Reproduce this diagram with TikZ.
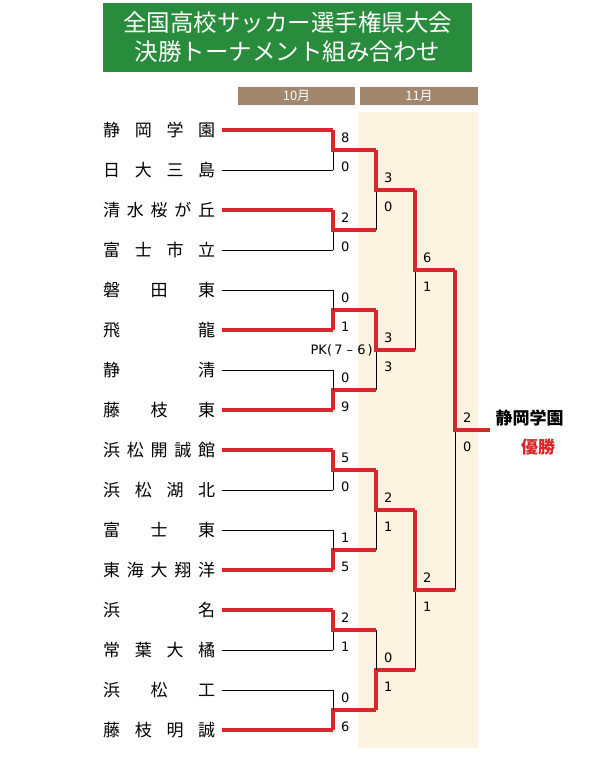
\documentclass[tikz,border=0pt]{standalone}
\usepackage{fontspec}
\setmainfont{Noto Sans CJK JP}
\setsansfont{DejaVu Sans}
\definecolor{winred}{RGB}{214,40,44}
\definecolor{titlegreen}{RGB}{40,140,60}
\definecolor{monthbrown}{RGB}{160,135,110}
\definecolor{novbg}{RGB}{253,243,225}
\tikzset{
  winline/.style={winred, line width=4pt},
  loseline/.style={black, line width=0.8pt},
  score/.style={anchor=west, inner sep=0pt, font=\sffamily\fontsize{13}{13}\selectfont},
  teamname/.style={anchor=west, inner sep=0pt, font=\fontsize{17}{17}\selectfont},
}
% one bout: x of joint, top y, bottom y, winner (1 top / 2 bottom), scores, x of next joint
\newcommand{\bout}[7]{%
  \pgfmathsetmacro\mid{(#2+#3)/2}
  \ifnum#4=1
    \draw[loseline] (#1,#3) -- (#1,\mid);
    \draw[winline] (#1,#2) -- (#1,\mid) -- (#7,\mid);
  \else
    \draw[winline] (#1,#3) -- (#1,\mid) -- (#7,\mid);
    \draw[loseline] (#1,#2) -- (#1,\mid);
  \fi
  \node[score] at (#1+8,\mid-12) {#5};
  \node[score] at (#1+8,\mid+17) {#6};
}
\begin{document}
\begin{tikzpicture}[x=1pt, y=-1pt]
  \useasboundingbox (0,0) rectangle (608,760);
  \fill[white] (0,0) rectangle (608,760);

  % title and months
  \fill[titlegreen] (103,3) rectangle (472,72);
  \node[white, align=center, font=\fontsize{23.5}{29}\selectfont] (title) at (287.5,37)
    {全国高校サッカー選手権県大会\\決勝トーナメント組み合わせ};
  \fill[novbg] (358,112) rectangle (478,748);
  \fill[monthbrown] (238,87) rectangle (355,105);
  \fill[monthbrown] (360,87) rectangle (478,105);
  \node[white, font=\fontsize{13}{13}\selectfont] (oct) at (296.5,96) {10月};
  \node[white, font=\fontsize{13}{13}\selectfont] (nov) at (419,96) {11月};

  % teams (1 = winner of first bout)
  \foreach \name/\w [count=\i] in {
      静\hfill 岡\hfill 学\hfill 園/1, 日\hfill 大\hfill 三\hfill 島/0,
      清\hfill 水\hfill 桜\hfill が\hfill 丘/1, 富\hfill 士\hfill 市\hfill 立/0,
      磐\hfill 田\hfill 東/0, 飛\hfill 龍/1, 静\hfill 清/0, 藤\hfill 枝\hfill 東/1,
      浜\hfill 松\hfill 開\hfill 誠\hfill 館/1, 浜\hfill 松\hfill 湖\hfill 北/0,
      富\hfill 士\hfill 東/0, 東\hfill 海\hfill 大\hfill 翔\hfill 洋/1,
      浜\hfill 名/1, 常\hfill 葉\hfill 大\hfill 橘/0, 浜\hfill 松\hfill 工/0,
      藤\hfill 枝\hfill 明\hfill 誠/1} {
    \pgfmathsetmacro\yy{130+40*(\i-1)}
    \node[teamname] (team\i) at (103,\yy) {\makebox[112pt][s]{\name}};
    \ifnum\w=1
      \draw[winline] (222,\yy) -- (333,\yy);
    \else
      \draw[loseline] (222,\yy) -- (333,\yy);
    \fi
  }

  % first round
  \bout{333}{130}{170}{1}{8}{0}{376}
  \bout{333}{210}{250}{1}{2}{0}{376}
  \bout{333}{290}{330}{2}{0}{1}{376}
  \bout{333}{370}{410}{2}{0}{9}{376}
  \bout{333}{450}{490}{1}{5}{0}{376}
  \bout{333}{530}{570}{2}{1}{5}{376}
  \bout{333}{610}{650}{1}{2}{1}{376}
  \bout{333}{690}{730}{2}{0}{6}{376}
  % second round
  \bout{376}{150}{230}{1}{3}{0}{415}
  \bout{376}{310}{390}{1}{3}{3}{415}
  \bout{376}{470}{550}{1}{2}{1}{415}
  \bout{376}{630}{710}{2}{0}{1}{415}
  \node[anchor=east, inner sep=0pt, font=\sffamily\fontsize{13}{13}\selectfont] (pk) at (373,350) {PK(\,7 -- 6\,)};
  % semifinals and final
  \bout{415}{190}{350}{1}{6}{1}{455}
  \bout{415}{510}{670}{1}{2}{1}{455}
  \bout{455}{270}{590}{1}{2}{0}{490}

  \node[anchor=west, font=\bfseries\fontsize{17}{17}\selectfont] (champ) at (492,418) {静岡学園};
  \node[winred, font=\bfseries\fontsize{17}{17}\selectfont] (yusho) at (538,447) {優勝};
\end{tikzpicture}
\end{document}
